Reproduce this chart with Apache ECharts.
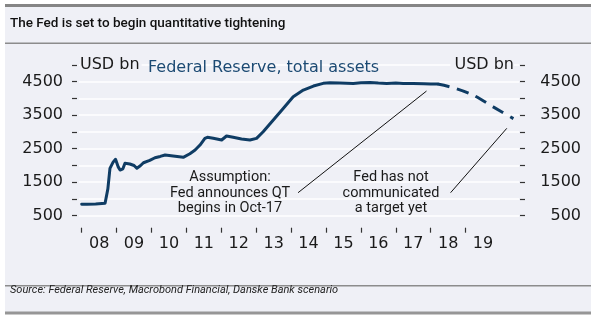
<!DOCTYPE html>
<html>
<head>
<meta charset="utf-8">
<script src="https://cdn.jsdelivr.net/npm/echarts@6/dist/echarts.min.js"></script>
<style>
  html, body { margin: 0; padding: 0; background: #ffffff; }
  #chart { width: 600px; height: 326px; }
</style>
</head>
<body>
<div id="chart"></div>
<script>
// Fed balance sheet, USD bn, by decimal year
const actualYears = [2008.0, 2008.15, 2008.4, 2008.67, 2008.75, 2008.81, 2008.9, 2008.97, 2009.05, 2009.1,
  2009.18, 2009.24, 2009.38, 2009.5, 2009.58, 2009.68, 2009.77, 2009.95, 2010.1, 2010.25,
  2010.39, 2010.62, 2010.91, 2011.1, 2011.25, 2011.39, 2011.53, 2011.6, 2011.77, 2012.01,
  2012.15, 2012.34, 2012.58, 2012.82, 2013.01, 2013.2, 2013.49, 2013.78, 2014.06, 2014.35,
  2014.64, 2014.92, 2015.11, 2015.4, 2015.78, 2016.0, 2016.26, 2016.5, 2016.74, 2017.0,
  2017.21, 2017.5, 2017.8, 2018.0, 2018.2];
const actualValues = [845, 840, 850, 870, 1300, 1915, 2100, 2184, 1950, 1864,
  1900, 2064, 2043, 2000, 1915, 1990, 2082, 2150, 2231, 2270,
  2312, 2282, 2243, 2350, 2461, 2610, 2810, 2840, 2810, 2760,
  2879, 2840, 2790, 2760, 2810, 3007, 3357, 3706, 4052, 4252,
  4371, 4452, 4470, 4460, 4450, 4470, 4480, 4460, 4450, 4460,
  4450, 4450, 4440, 4435, 4430];

// Danske Bank scenario for the run-off
const scenarioYears = [2018.2, 2018.65, 2019.22, 2019.79, 2020.37];
const scenarioValues = [4430, 4320, 4100, 3750, 3400];

// Axis ticks and labels
const yearTicks = [2008, 2009, 2010, 2011, 2012, 2013, 2014, 2015, 2016, 2017, 2018, 2019];
const yearLabels = ['08', '09', '10', '11', '12', '13', '14', '15', '16', '17', '18', '19'];
const labelledLevels = [500, 1500, 2500, 3500, 4500];

// Leader lines from the notes to the curve: [year, USD bn] ends
const qtNoteLine = [[2014.2, 1187], [2017.88, 4222]];
const targetNoteLine = [[2018.57, 1187], [2020.18, 3109]];

const pair = (xs, ys) => xs.map((x, i) => [x, ys[i]]);
const yearLabelPos = yearTicks.map(y => y + 0.5);

const axisFont = 'DejaVu Sans';
const textFont = 'Roboto';
const ink = '#1a1a1a';
const navy = '#0f3c64';
const panel = '#eff0f6';

const yAxisBase = {
  type: 'value', min: 500, max: 5000, interval: 500,
  axisLine: { show: false },
  axisTick: { show: true, length: 5, lineStyle: { color: '#333', width: 1.2 } },
  splitLine: { show: true, lineStyle: { color: '#ffffff', width: 1.5 } },
  axisLabel: {
    fontFamily: axisFont, fontSize: 16, color: ink,
    formatter: v => labelledLevels.includes(v) ? String(v) : ''
  }
};

const chart = echarts.init(document.getElementById('chart'), null, { renderer: 'canvas' });
chart.setOption({
  animation: false,
  backgroundColor: '#ffffff',
  grid: { left: 79, right: 81, top: 65, bottom: 110.3, containLabel: false },
  xAxis: {
    type: 'value', min: 2007.923, max: 2020.53,
    offset: 12,
    axisLine: { show: false },
    splitLine: { show: false },
    axisTick: { show: true, length: 5, customValues: yearTicks, lineStyle: { color: '#333', width: 1.2 } },
    axisLabel: {
      customValues: yearLabelPos, margin: 8,
      fontFamily: axisFont, fontSize: 16, color: ink,
      formatter: v => yearLabels[yearLabelPos.indexOf(v)] || ''
    }
  },
  yAxis: [
    Object.assign({}, yAxisBase, { position: 'left', offset: 2,
      axisLabel: Object.assign({}, yAxisBase.axisLabel, { margin: 14 }) }),
    Object.assign({}, yAxisBase, { position: 'right', offset: 1,
      splitLine: { show: false },
      axisLabel: Object.assign({}, yAxisBase.axisLabel, { margin: 61, align: 'right' }) })
  ],
  graphic: [
    { type: 'rect', z: -10, shape: { x: 5, y: 4, width: 586, height: 310 }, style: { fill: panel } },
    { type: 'rect', z: -9, shape: { x: 5, y: 4, width: 586, height: 3 }, style: { fill: '#858585' } },
    { type: 'rect', z: -9, shape: { x: 5, y: 42.5, width: 586, height: 1.5 }, style: { fill: '#8c8c8c' } },
    { type: 'rect', z: -9, shape: { x: 5, y: 285, width: 586, height: 1.5 }, style: { fill: '#8c8c8c' } },
    { type: 'rect', z: -9, shape: { x: 5, y: 311.5, width: 586, height: 3 }, style: { fill: '#969696' } },
    { type: 'text', left: 10, top: 17, style: {
      text: 'The Fed is set to begin quantitative tightening',
      font: '500 13.5px ' + textFont, fill: '#111' } },
    { type: 'text', left: 10, top: 285, style: {
      text: 'Source: Federal Reserve, Macrobond Financial, Danske Bank scenario',
      font: 'italic 11px ' + textFont, fill: '#222' } },
    { type: 'text', z: 100, x: 80, y: 65, style: {
      text: 'USD bn', font: '16px ' + axisFont, fill: ink, verticalAlign: 'middle', align: 'left',
      backgroundColor: panel, padding: [0, 2, 0, 0] } },
    { type: 'text', z: 100, x: 514, y: 65, style: {
      text: 'USD bn', font: '16px ' + axisFont, fill: ink, verticalAlign: 'middle', align: 'right',
      backgroundColor: panel, padding: [0, 0, 0, 4] } },
    { type: 'text', z: 100, x: 148, y: 68, style: {
      text: 'Federal Reserve, total assets', font: '16px ' + axisFont, fill: '#1c4a73',
      verticalAlign: 'middle', align: 'left' } },
    { type: 'text', z: 100, x: 230, y: 193, style: {
      text: 'Assumption:\nFed announces QT\nbegins in Oct-17', font: '14.5px ' + textFont, fill: ink,
      align: 'center', verticalAlign: 'middle', lineHeight: 15.5 } },
    { type: 'text', z: 100, x: 391, y: 193, style: {
      text: 'Fed has not\ncommunicated\na target yet', font: '14.5px ' + textFont, fill: ink,
      align: 'center', verticalAlign: 'middle', lineHeight: 15.5 } }
  ],
  series: [
    {
      name: 'Federal Reserve, total assets', type: 'line', showSymbol: false, z: 5,
      data: pair(actualYears, actualValues),
      lineStyle: { color: navy, width: 3, join: 'round', cap: 'round' },
      markLine: {
        silent: true, symbol: 'none', label: { show: false },
        lineStyle: { color: '#111', width: 1, type: 'solid' },
        data: [
          [{ coord: qtNoteLine[0] }, { coord: qtNoteLine[1] }],
          [{ coord: targetNoteLine[0] }, { coord: targetNoteLine[1] }]
        ]
      }
    },
    {
      name: 'Scenario', type: 'line', showSymbol: false, smooth: 0.3, z: 5,
      data: pair(scenarioYears, scenarioValues),
      lineStyle: { color: navy, width: 3, type: [12, 8] }
    }
  ]
});
</script>
</body>
</html>
